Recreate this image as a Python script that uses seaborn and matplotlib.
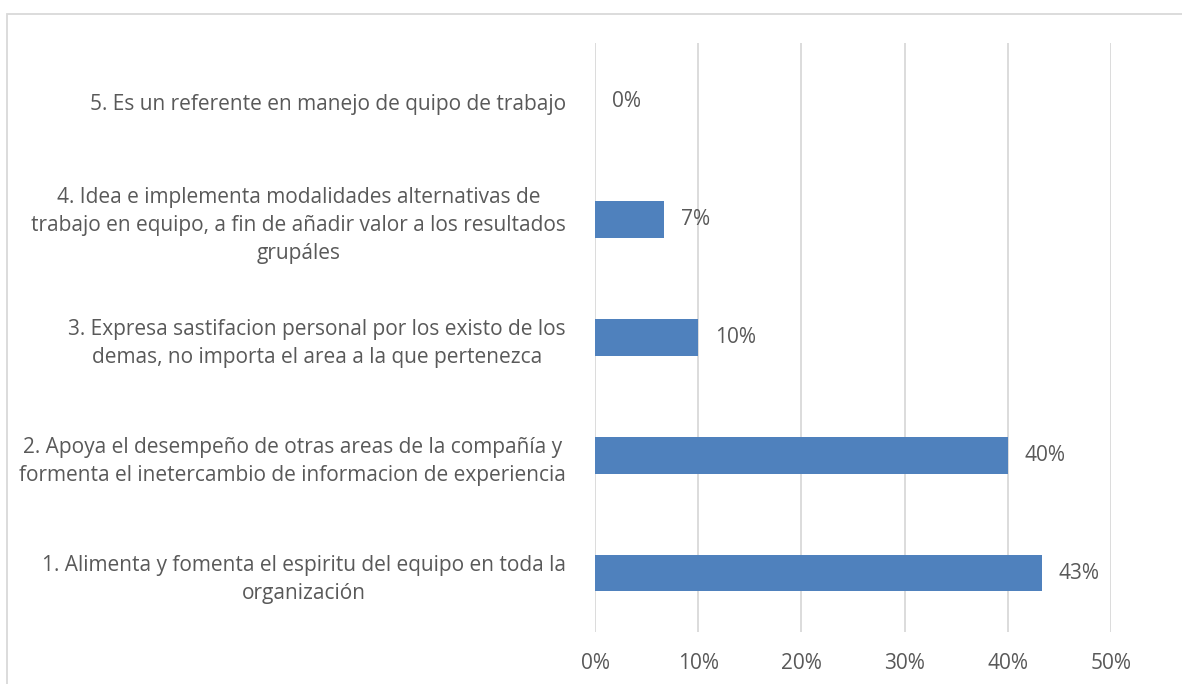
import matplotlib
matplotlib.use("Agg")
import matplotlib.pyplot as plt
import seaborn as sns
import pandas as pd
from matplotlib.patches import Rectangle

categories = [
    "5. Es un referente en manejo de quipo de trabajo",
    "4. Idea e implementa modalidades alternativas de\ntrabajo en equipo, a fin de añadir valor a los resultados\ngrupáles",
    "3. Expresa sastifacion personal por los existo de los\ndemas, no importa el area a la que pertenezca",
    "2. Apoya el desempeño de otras areas de la compañía y\nformenta el inetercambio de informacion de experiencia",
    "1. Alimenta y fomenta el espiritu del equipo en toda la\norganización",
]
values = [0.0, 6.67, 10.0, 40.0, 43.33]
xticks = [0, 10, 20, 30, 40, 50]
xtick_labels = ["0%", "10%", "20%", "30%", "40%", "50%"]

sns.set_theme(style="white")
plt.rcParams["font.family"] = ["Open Sans", "DejaVu Sans"]

text_color = "#595959"
bar_color = "#4F81BD"
grid_color = "#D9D9D9"

fig = plt.figure(figsize=(11.82, 6.84), dpi=100)
ax = fig.add_axes([595 / 1182, 1 - 632 / 684, (1111 - 595) / 1182, (632 - 43) / 684])

df = pd.DataFrame({"pregunta": categories, "valor": values})
sns.barplot(data=df, x="valor", y="pregunta", order=categories, orient="h",
            color=bar_color, saturation=1, width=0.31, linewidth=0,
            edgecolor="none", ax=ax, zorder=3)

ax.set_xlim(0, 50)
ax.set_ylim(4.5, -0.5)
ax.set_xticks(xticks)
ax.set_xticklabels(xtick_labels)
ax.xaxis.grid(True, color=grid_color, linewidth=1.3, zorder=0)
ax.set_axisbelow(True)
for s in ax.spines.values():
    s.set_visible(False)
ax.set_xlabel("")
ax.set_ylabel("")
ax.tick_params(axis="x", length=0, pad=15, labelsize=15, labelcolor=text_color)
ax.tick_params(axis="y", length=0, pad=21, labelsize=15, labelcolor=text_color)
for lbl in ax.get_yticklabels():
    lbl.set_multialignment("center")
    lbl.set_linespacing(1.45)

for i, v in enumerate(values):
    ax.annotate(f"{v:.0f}%", xy=(v, i), xytext=(12, 0), textcoords="offset points",
                ha="left", va="center", fontsize=15, color=text_color)

fig.patches.append(Rectangle((7 / 1182, -0.1), 1.2, 1 - 14 / 684 + 0.1,
                             transform=fig.transFigure, fill=False,
                             edgecolor=grid_color, linewidth=1.3))

fig.savefig("out.png", dpi=100, facecolor="white")
